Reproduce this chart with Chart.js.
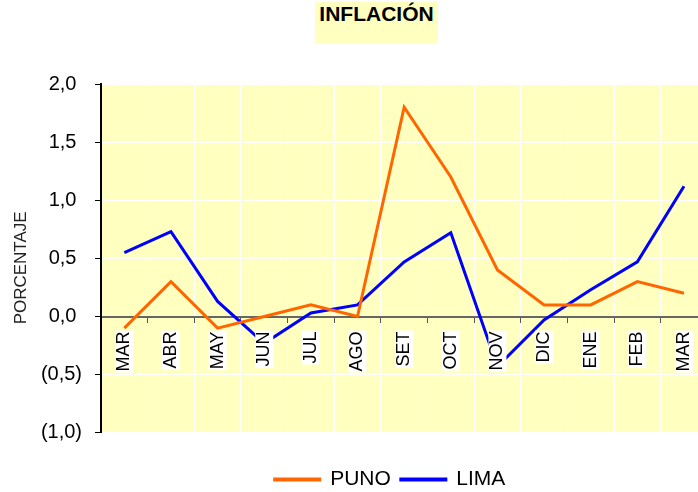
<!DOCTYPE html>
<html>
<head>
<meta charset="utf-8">
<title>Inflación</title>
<script src="https://cdn.jsdelivr.net/npm/chart.js@4.4.1/dist/chart.umd.min.js"></script>
<style>
  html, body { margin: 0; padding: 0; background: #fff; overflow: hidden; }
  #wrap { position: relative; width: 698px; height: 492px; overflow: hidden; }
  #chart { position: absolute; left: 0; top: 0; }
  #title {
    position: absolute; left: 315px; top: 2px; width: 123px; height: 42px;
    line-height: 42px; background: #ffffc0; text-align: center; color: #000;
    font: bold 21px "Liberation Sans", Arial, sans-serif;
  }
</style>
</head>
<body>
<div id="wrap">
  <canvas id="chart" width="712" height="500"></canvas>
  <div id="title">INFLACIÓN</div>
</div>
<script>
// --- data ---
const months = ['MAR', 'ABR', 'MAY', 'JUN', 'JUL', 'AGO', 'SET', 'OCT', 'NOV', 'DIC', 'ENE', 'FEB', 'MAR'];
const puno = [-0.10, 0.30, -0.10, 0.00, 0.10, 0.00, 1.80, 1.20, 0.40, 0.10, 0.10, 0.30, 0.20];
const lima = [0.55, 0.73, 0.13, -0.23, 0.03, 0.10, 0.47, 0.72, -0.43, -0.03, 0.23, 0.47, 1.12];
// y ticks from -1,0 up to 2,0 (positive ones keep room for the ")")
const yTickLabels = ['(1,0)', '(0,5)', '0,0 ', '0,5 ', '1,0 ', '1,5 ', '2,0 '];

const FONT = '"Liberation Sans", Arial, sans-serif';
const X_FONT = 18;
const X_TICK_LEN = 5;
const X_TICK_PAD = 10;

Chart.defaults.font.family = FONT;

// pale yellow behind the plot
const plotBackground = {
    id: 'plotBackground',
    beforeDraw(chart) {
        const { ctx, chartArea: a } = chart;
        ctx.save();
        ctx.fillStyle = '#ffffc0';
        ctx.fillRect(a.left, a.top, a.right - a.left, a.bottom - a.top);
        ctx.restore();
    }
};

// white boxes behind the month labels, painted over the lines
const labelBackdrop = {
    id: 'labelBackdrop',
    afterDatasetsDraw(chart) {
        const { ctx } = chart;
        const xs = chart.scales.x, ys = chart.scales.y;
        const top = ys.getPixelForValue(0) + X_TICK_LEN + X_TICK_PAD;
        ctx.save();
        ctx.font = X_FONT + 'px ' + FONT;
        ctx.fillStyle = '#fff';
        months.forEach((m, i) => {
            const w = ctx.measureText(m).width;
            const px = xs.getPixelForTick(i);
            ctx.fillRect(px - X_FONT / 2, top - 1, X_FONT, w + 2);
        });
        ctx.restore();
    }
};

// legend sits a bit right of the canvas centre in the original
const legendShift = {
    id: 'legendShift',
    afterLayout(chart) {
        chart.legend.left += 34;
        chart.legend.right += 34;
    }
};

new Chart(document.getElementById('chart'), {
    type: 'line',
    data: {
        labels: months,
        datasets: [
            {
                label: 'PUNO',
                data: puno,
                borderColor: '#ff6600',
                backgroundColor: '#ff6600',
                borderWidth: 3,
                pointRadius: 0,
                tension: 0
            },
            {
                label: 'LIMA',
                data: lima,
                borderColor: '#0000ff',
                backgroundColor: '#0000ff',
                borderWidth: 3,
                pointRadius: 0,
                tension: 0
            }
        ]
    },
    options: {
        responsive: false,
        animation: false,
        layout: { padding: { top: 84, left: 0, right: 0, bottom: 0 } },
        plugins: {
            title: { display: false },
            tooltip: { enabled: false },
            legend: {
                position: 'bottom',
                title: { display: true, text: '', padding: { top: 25, bottom: 0 }, font: { size: 1 } },
                labels: { boxWidth: 45, boxHeight: 1, padding: 10, color: '#000', font: { size: 21 } }
            }
        },
        scales: {
            x: {
                type: 'category',
                position: { y: 0 },
                offset: true,
                grid: { color: '#fff', lineWidth: 1, offset: true, tickLength: X_TICK_LEN, tickColor: '#555' },
                border: { color: '#666', width: 2 },
                ticks: {
                    autoSkip: false, minRotation: 90, maxRotation: 90,
                    padding: X_TICK_PAD, color: '#000',
                    font: { size: X_FONT, lineHeight: 1 }, z: 1
                },
                afterFit(scale) { scale.height = 0; }
            },
            y: {
                min: -1,
                max: 2,
                ticks: {
                    stepSize: 0.5, padding: 13, color: '#000', font: { size: 20 },
                    callback: (v, i) => yTickLabels[i]
                },
                grid: { color: '#fff', lineWidth: 1, tickLength: 6, tickColor: '#000' },
                border: { color: '#000', width: 2 },
                title: {
                    // trailing spaces nudge the rotated text a little lower, as in the original
                    display: true, text: 'PORCENTAJE\u00a0\u00a0\u00a0\u00a0', color: '#222',
                    font: { size: 17 }, padding: { top: 11, bottom: 0 }
                },
                afterFit(scale) { scale.width = 101; }
            }
        }
    },
    plugins: [plotBackground, labelBackdrop, legendShift]
});
</script>
</body>
</html>
